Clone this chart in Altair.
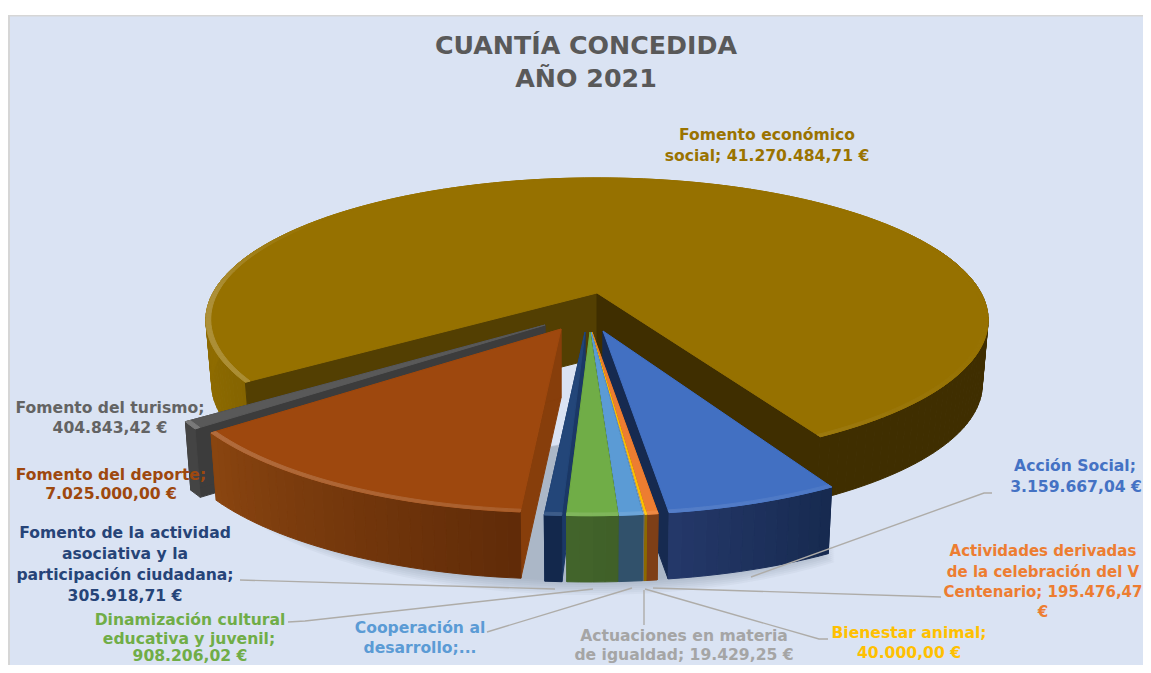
import math
import altair as alt

# ---------- data ----------
categories = ["Fomento económico social", "Acción Social", "Actividades derivadas V Centenario",
              "Bienestar animal", "Actuaciones en materia de igualdad", "Cooperación al desarrollo",
              "Dinamización cultural educativa y juvenil",
              "Fomento de la actividad asociativa y la participación ciudadana",
              "Fomento del deporte", "Fomento del turismo"]
values = [41270484.71, 3159667.04, 195476.47, 40000.00, 19429.25, 420000.00,
          908206.02, 305918.71, 7025000.00, 404843.42]
top_colors = ["#967100", "#4270c2", "#ed7d31", "#ffc000", "#a5a5a5", "#5b9bd5",
              "#70ad47", "#234679", "#9e480e", "#595959"]
wall_left = ["#8f6c00", "#24386a", "#82421a", "#8f6c00", "#6a6a6a", "#33526e",
             "#43652b", "#14294e", "#8a4510", "#4a4a4a"]
wall_right = ["#3f2e00", "#172a4f", "#7a3c14", "#8a6800", "#666666", "#2f5068",
              "#3f5f28", "#12264a", "#602b08", "#3f3f3f"]
radial_colors = ["#3f2e00", "#162a50", "#7f4016", "#8f6c00", "#6a6a6a", "#29506f",
                 "#3c5e28", "#1b3866", "#873e0b", "#3c3c3c"]
main_left_wall = "#533f02"

label_lines = [
    ("CUANTÍA CONCEDIDA", 586, 46, "#595959", 25.3), ("AÑO 2021", 586, 79, "#595959", 25.3),
    ("Fomento económico", 767, 135, "#9a7300", 15.6), ("social; 41.270.484,71 €", 767, 156, "#9a7300", 15.6),
    ("Acción Social;", 1075, 466, "#4472c4", 15.6), ("3.159.667,04 €", 1076, 487, "#4472c4", 15.6),
    ("Actividades derivadas", 1043, 551, "#ed7d31", 15), ("de la celebración del V", 1043, 572, "#ed7d31", 15),
    ("Centenario; 195.476,47", 1043, 592, "#ed7d31", 15), ("€", 1043, 612, "#ed7d31", 15),
    ("Bienestar animal;", 909, 633, "#ffc000", 15.6), ("40.000,00 €", 909, 653, "#ffc000", 15.6),
    ("Actuaciones en materia", 684, 636, "#a5a5a5", 15.6), ("de igualdad; 19.429,25 €", 684, 655, "#a5a5a5", 15.6),
    ("Cooperación al", 420, 628, "#5b9bd5", 15.6), ("desarrollo;...", 420, 648, "#5b9bd5", 15.6),
    ("Dinamización cultural", 190, 620, "#70ad47", 15.6), ("educativa y juvenil;", 189, 639, "#70ad47", 15.6),
    ("908.206,02 €", 190, 656, "#70ad47", 15.6),
    ("Fomento de la actividad", 125, 533, "#264478", 15.6), ("asociativa y la", 125, 554, "#264478", 15.6),
    ("participación ciudadana;", 125, 575, "#264478", 15.6), ("305.918,71 €", 125, 596, "#264478", 15.6),
    ("Fomento del deporte;", 111, 475, "#9e480e", 15.6), ("7.025.000,00 €", 111, 494, "#9e480e", 15.6),
    ("Fomento del turismo;", 110, 408, "#636363", 15.6), ("404.843,42 €", 110, 428, "#636363", 15.6),
]

# ---------- layout of the 3-D pie ----------
apex = [(597, 293), (603, 331), (592, 332), (591.5, 332), (591, 332), (591, 332),
        (590, 332), (585, 332), (561, 329), (545, 325)]
rho = [1.0] + [1.02] * 9
ystretch = [1.0] + [1.06] * 9
depth = [65, 69, 69, 69, 69, 69, 69, 69, 69, 70]
START = 29.0
RX, RY, K, SHRINK = 384.0, 137.0, 0.19, 0.985
paint_order = [0, 9, 8, 7, 1, 2, 3, 4, 5, 6]

total = sum(values)
ends = []
a = START
for v in values[1:]:
    b = a - v / total * 360
    ends.append((a, b))
    a = b
spans = [(a, START - 360)] + ends  # main runs back over the top of the pie


def pt(deg, r):
    t = math.radians(deg)
    u, w = r * math.sin(t), r * math.cos(t)
    den = 1 - K * w
    return RX * u / den, RY * w / den


def top(i, deg, f=1.0):
    x, y = pt(deg, rho[i] * f)
    return [apex[i][0] + x, apex[i][1] + ystretch[i] * y]


def bottom(i, deg):
    x, y = pt(deg, rho[i])
    return [apex[i][0] + SHRINK * x, apex[i][1] + depth[i] + SHRINK * ystretch[i] * y]


def mix(c1, c2, s):
    s = max(0.0, min(1.0, s))
    a1 = [int(c1[j:j + 2], 16) for j in (1, 3, 5)]
    a2 = [int(c2[j:j + 2], 16) for j in (1, 3, 5)]
    return "#%02x%02x%02x" % tuple(round(p + (q - p) * s) for p, q in zip(a1, a2))


def poly(points, fill):
    ring = [list(p) for p in points] + [list(points[0])]
    return {"type": "Feature", "properties": {"fill": fill},
            "geometry": {"type": "Polygon", "coordinates": [ring]}}


def line(points):
    return {"type": "Feature", "properties": {},
            "geometry": {"type": "LineString", "coordinates": [list(p) for p in points]}}


def steps(a0, a1, step=1.5):
    n = max(1, int(abs(a1 - a0) / step))
    return [a0 + (a1 - a0) * j / n for j in range(n + 1)]


# background
bg = [poly([(8, 15), (1143, 15), (1143, 665), (8, 665)], "#d6d6d6"),
      poly([(10, 16.5), (1143, 16.5), (1143, 665), (10, 665)], "#dae3f3")]

# ground shadow
shadow = []
for d in (0, 2, 4, 6, 8, 10, 12, 14):
    ang = steps(-56, 32)
    ring = [[590, 440]] + [[590 + SHRINK * pt(t, 1.02)[0],
                            331 + 69 + d + SHRINK * 1.06 * pt(t, 1.02)[1]] for t in ang]
    shadow.append(poly(ring, "#5f6f88"))

# slices
faces = []


def strips(i, ang, a0, a1):
    for p, q in zip(ang[:-1], ang[1:]):
        mid = (p + q) / 2
        if i == 0:
            if math.cos(math.radians(mid)) < -0.35:
                continue  # hidden behind the top face
            s = (math.sin(math.radians(mid)) + 1) / 1.4
        else:
            s = (mid - a1) / max(a0 - a1, 0.001)
        col = mix(wall_left[i], wall_right[i], s)
        faces.append(poly([top(i, p), top(i, q), bottom(i, q), bottom(i, p)], col))


for i in paint_order:
    a0, a1 = spans[i]
    ang = steps(a0, a1)
    ap = apex[i]
    ab = [ap[0], ap[1] + depth[i]]
    if i == 0:
        # a0 is the left end of the main slice, a1 its right end
        strips(i, ang, a0, a1)
        faces.append(poly([ap, top(i, a0), bottom(i, a0), ab], main_left_wall))
        faces.append(poly([ap, top(i, a1), bottom(i, a1), ab], radial_colors[i]))
    else:
        faces.append(poly([ap, top(i, a0), bottom(i, a0), ab], radial_colors[i]))
        faces.append(poly([ap, top(i, a1), bottom(i, a1), ab], radial_colors[i]))
        strips(i, ang, a0, a1)
    faces.append(poly([ap] + [top(i, t) for t in ang], top_colors[i]))
    for p, q in zip(ang[:-1], ang[1:]):
        mid = (p + q) / 2
        lit = max(0.0, (1 - math.sin(math.radians(mid))) / 2)
        lit *= max(0.0, min(1.0, (math.cos(math.radians(mid)) + 0.6) / 0.6))
        col = mix(top_colors[i], "#ffffff", 0.22 * lit)
        faces.append(poly([top(i, p), top(i, q), top(i, q, 0.988), top(i, p, 0.988)], col))

leaders = [
    [(992, 493), (984, 493), (751, 577)],
    [(941, 597), (653, 588)],
    [(828, 639), (819, 639), (645, 589)],
    [(644, 625), (644, 590)],
    [(487, 632), (632, 588)],
    [(288, 622), (305, 621), (593, 589)],
    [(240, 580), (555, 589)],
]

PROJ = dict(type="identity", scale=1, translate=[-8, -8])


def shapes(feats, **kw):
    return alt.Chart(alt.Data(values=feats)).mark_geoshape(**kw).encode(
        fill=alt.Fill("properties.fill:N", scale=None, legend=None),
        stroke=alt.Stroke("properties.fill:N", scale=None, legend=None),
    ).project(**PROJ)


bg_layer = shapes(bg, strokeWidth=0)
shadow_layer = alt.Chart(alt.Data(values=shadow)).mark_geoshape(
    fill="#5f6f88", fillOpacity=0.06, strokeWidth=0).project(**PROJ)
face_layer = shapes(faces, strokeWidth=1)
lead_layer = alt.Chart(alt.Data(values=[line(l) for l in leaders])).mark_geoshape(
    filled=False, stroke="#aeaca8", strokeWidth=1.4).project(**PROJ)

rows = [{"t": t, "x": x - 8, "y": y - 8, "c": c, "s": s} for t, x, y, c, s in label_lines]
text_layer = alt.Chart(alt.Data(values=rows)).mark_text(
    font="DejaVu Sans", fontWeight="bold", align="center", baseline="middle").encode(
    x=alt.X("x:Q", scale=None, axis=None),
    y=alt.Y("y:Q", scale=None, axis=None),
    text="t:N",
    color=alt.Color("c:N", scale=None, legend=None),
    size=alt.Size("s:Q", scale=None, legend=None),
)

chart = alt.layer(bg_layer, shadow_layer, face_layer, lead_layer, text_layer).properties(
    width=1135, height=657, padding=0, background="#ffffff",
    autosize=alt.AutoSizeParams(type="none"),
).configure_view(stroke=None)

chart.save("out.html", embed_options={"renderer": "svg", "actions": False})
